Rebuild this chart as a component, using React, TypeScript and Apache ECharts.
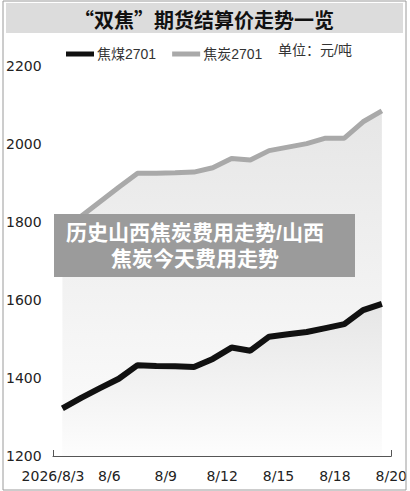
import { useEffect, useRef } from "react";
import * as echarts from "echarts";

// daily points shown on the hidden data axis
const days = [
  "8/3", "8/4", "8/5", "8/6", "8/7", "8/8", "8/9", "8/10", "8/11",
  "8/12", "8/13", "8/14", "8/15", "8/16", "8/17", "8/18", "8/19", "8/20",
];
// labels on the visible axis
const tickLabels = ["2026/8/3", "8/6", "8/9", "8/12", "8/15", "8/18", "8/20"];

const coalName = "焦煤2701";
const cokeName = "焦炭2701";
const coal = [1322, 1349, 1374, 1398, 1433, 1431, 1430, 1428, 1449, 1478, 1470, 1506, 1512, 1518, 1528, 1538, 1574, 1590];
const coke = [1808, 1815, 1852, 1889, 1925, 1925, 1926, 1928, 1939, 1963, 1959, 1983, 1992, 2001, 2015, 2015, 2057, 2085];

const CJK = "Liberation Sans, Noto Sans CJK SC, sans-serif";
const CJK_FIRST = "Noto Sans CJK SC, sans-serif";

const fill = () =>
  new echarts.graphic.LinearGradient(0, 0, 0, 1, [
    { offset: 0, color: "#e6e6e6" },
    { offset: 1, color: "#fdfdfd" },
  ]);

export default function App() {
  const ref = useRef<HTMLDivElement>(null);

  useEffect(() => {
    const el = ref.current;
    if (!el) return;
    const chart = echarts.init(el, undefined, { renderer: "svg" });
    chart.setOption({
      animation: false,
      backgroundColor: "#fff",
      grid: { left: 53, right: 17, top: 66, bottom: 35 },
      legend: {
        left: 61,
        top: 42,
        icon: "rect",
        itemWidth: 28,
        itemHeight: 5,
        itemGap: 16,
        data: [coalName, cokeName],
        textStyle: { fontSize: 14, color: "#333", fontFamily: CJK, padding: [0, 0, 0, -2] },
      },
      xAxis: [
        {
          type: "category",
          data: tickLabels,
          boundaryGap: false,
          axisLine: { lineStyle: { color: "#555", width: 1 } },
          axisTick: { inside: true, length: 6, lineStyle: { color: "#555" } },
          axisLabel: {
            margin: 13,
            fontSize: 14,
            color: "#222",
            fontFamily: "DejaVu Sans",
            interval: 0,
          },
          splitLine: { show: false },
        },
        {
          type: "category",
          data: days,
          boundaryGap: true,
          show: false,
        },
      ],
      yAxis: {
        type: "value",
        min: 1200,
        max: 2200,
        interval: 200,
        axisLine: { show: false },
        axisTick: { show: false },
        splitLine: { show: false },
        axisLabel: {
          align: "left",
          margin: 47,
          fontSize: 14,
          color: "#222",
          fontFamily: "DejaVu Sans",
          formatter: (v: number) => String(v),
        },
      },
      series: [
        {
          name: cokeName,
          type: "line",
          xAxisIndex: 1,
          data: coke,
          symbol: "none",
          z: 2,
          lineStyle: { color: "#a9a9a9", width: 5 },
          itemStyle: { color: "#a9a9a9" },
          areaStyle: { color: fill(), opacity: 1 },
        },
        {
          name: coalName,
          type: "line",
          xAxisIndex: 1,
          data: coal,
          symbol: "none",
          z: 3,
          lineStyle: { color: "#111", width: 6 },
          itemStyle: { color: "#111" },
          areaStyle: { color: fill(), opacity: 1 },
        },
      ],
      graphic: [
        {
          type: "rect",
          shape: { x: 3, y: 1, width: 403, height: 489 },
          style: { fill: "none", stroke: "#9a9a9a", lineWidth: 1 },
          z: 50,
        },
        {
          type: "rect",
          shape: { x: 6, y: 3, width: 397, height: 30 },
          style: { fill: "#dcdcdc" },
          z: 50,
        },
        {
          type: "text",
          x: 204,
          y: 19,
          style: {
            text: "“双焦”期货结算价走势一览",
            fontSize: 20,
            fontWeight: "bold",
            fill: "#111",
            fontFamily: CJK_FIRST,
            align: "center",
            verticalAlign: "middle",
          },
          z: 51,
        },
        {
          type: "text",
          x: 278,
          y: 50,
          style: {
            text: "单位：元/吨",
            fontSize: 14,
            fill: "#333",
            fontFamily: CJK,
            verticalAlign: "middle",
          },
          z: 51,
        },
        {
          type: "rect",
          shape: { x: 54, y: 214, width: 301, height: 63 },
          style: { fill: "#9b9b9b" },
          z: 100,
        },
        {
          type: "text",
          x: 195,
          y: 232,
          style: {
            text: "历史山西焦炭费用走势/山西",
            fontSize: 21,
            fontWeight: "bold",
            fill: "#fff",
            fontFamily: CJK,
            align: "center",
            verticalAlign: "middle",
          },
          z: 101,
        },
        {
          type: "text",
          x: 195,
          y: 258,
          style: {
            text: "焦炭今天费用走势",
            fontSize: 21,
            fontWeight: "bold",
            fill: "#fff",
            fontFamily: CJK,
            align: "center",
            verticalAlign: "middle",
          },
          z: 101,
        },
      ],
    });
    return () => chart.dispose();
  }, []);

  return (
    <div
      ref={ref}
      style={{ position: "fixed", left: 0, top: 0, width: 410, height: 491 }}
    />
  );
}
